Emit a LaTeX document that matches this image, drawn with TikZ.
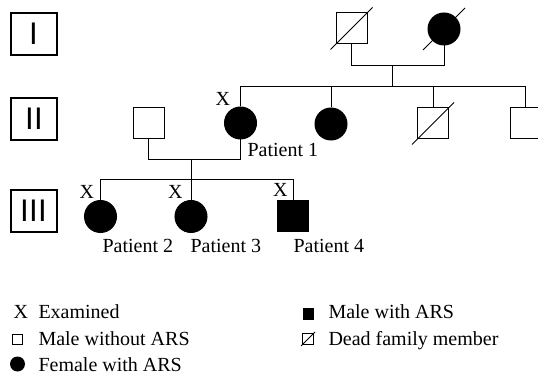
\documentclass[tikz,border=0pt]{standalone}
\usepackage{fontspec}
\setmainfont{Liberation Serif}
\newfontfamily\gensans{DejaVu Sans}
\begin{document}
\begin{tikzpicture}[x=1pt,y=-1pt,line width=1pt,
  male/.style={draw,rectangle,minimum size=31pt,inner sep=0pt},
  affmale/.style={male,fill=black},
  female/.style={draw,circle,fill=black,minimum size=32pt,inner sep=0pt},
  gen/.style={draw,rectangle,line width=1.2pt,minimum width=46pt,minimum height=42pt,inner sep=0pt,font=\gensans\fontsize{29.5}{30}\selectfont},
  lbl/.style={anchor=base west,inner sep=0pt,font=\fontsize{20}{24}\selectfont},
  exam/.style={anchor=south east,inner sep=0pt,font=\fontsize{20}{24}\selectfont}]
\useasboundingbox (0,0) rectangle (538,379);

% generations
\node[gen] (g1) at (34,34) {I};
\node[gen] (g2) at (34,119) {II};
\node[gen] (g3) at (34,211) {III};

% generation I
\node[male] (i1) at (351.5,28.5) {};
\node[female] (i2) at (444,29) {};
\coordinate (c1) at (392.5,65.5);
\coordinate (s1) at (392.5,86.5);

% generation II
\node[male] (sp) at (148.5,123) {};
\node[female] (p1) at (240.5,123) {};
\node[female] (f2) at (331,124) {};
\node[male] (m2) at (433,123.5) {};
\node[male] (m3) at (525.5,123) {};
\coordinate (c2) at (191,159.5);
\coordinate (s2) at (191,180);

% generation III
\node[female] (p2) at (100.5,216.5) {};
\node[female] (p3) at (191,216.5) {};
\node[affmale] (p4) at (293,216) {};

% dead
\foreach \n in {i1,i2,m2}
\draw ([shift={(-21,21)}]\n.center) -- ([shift={(21,-21)}]\n.center);

% lines
\draw (i1.south) |- (c1) -| (i2.south);
\draw (c1) -- (s1);
\foreach \n in {p1,f2,m2,m3}
\draw (\n.north) |- (s1);
\draw (sp.south) |- (c2) -| (p1.south);
\draw (c2) -- (s2);
\foreach \n in {p2,p3,p4}
\draw (\n.north) |- (s2);

% examined
\node[exam] (x1) at ([shift={(-10,0)}]p1.north) {X};
\node[exam] (x2) at ([shift={(-6,-1)}]p2.north) {X};
\node[exam] (x3) at ([shift={(-8,-1)}]p3.north) {X};
\node[exam] (x4) at ([shift={(-5,-3)}]p4.north) {X};

\node[lbl] (t1) at (247,157) {Patient 1};
\node[lbl] (t2) at (102,253) {Patient 2};
\node[lbl] (t3) at (190,253) {Patient 3};
\node[lbl] (t4) at (293,253) {Patient 4};

% legend
\node[lbl] (k1) at (13,319) {X};
\node[lbl] (e1) at (38,319) {Examined};
\node[draw,line width=0.8pt,minimum size=10pt,inner sep=0pt] (k2) at (17.5,339) {};
\node[lbl] (e2) at (38,345) {Male without ARS};
\node[circle,fill=black,minimum size=15pt,inner sep=0pt] (k3) at (17.5,364) {};
\node[lbl] (e3) at (38,371) {Female with ARS};
\node[fill=black,minimum size=11pt,inner sep=0pt] (k4) at (308,314) {};
\node[lbl] (e4) at (328,319) {Male with ARS};
\node[draw,line width=0.8pt,minimum size=11pt,inner sep=0pt] (k5) at (308,339) {};
\draw[line width=0.8pt] ([shift={(-7,7)}]k5.center) -- ([shift={(7,-7)}]k5.center);
\node[lbl] (e5) at (328,345) {Dead family member};
\end{tikzpicture}
\end{document}
